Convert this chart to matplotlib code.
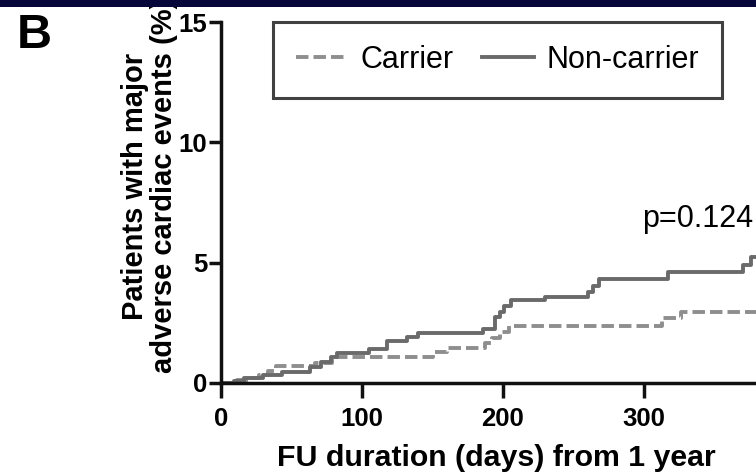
import matplotlib
matplotlib.use("Agg")
import matplotlib.pyplot as plt
from matplotlib.patches import Rectangle

plt.rcParams['font.family'] = ['Liberation Sans', 'DejaVu Sans']

# Cumulative incidence of major adverse cardiac events (%), step curves
noncarrier_days = [0, 9, 16, 30, 43, 63, 71, 78, 82, 105, 118, 132, 140, 186, 194,
                   198, 201, 206, 230, 260, 264, 268, 317, 370, 376, 390]
noncarrier_pct = [0, 0.10, 0.20, 0.33, 0.47, 0.68, 0.88, 1.09, 1.23, 1.40, 1.76, 1.90,
                  2.07, 2.23, 2.75, 2.96, 3.20, 3.45, 3.59, 3.79, 4.03, 4.32, 4.62,
                  4.90, 5.25, 5.25]

carrier_days = [0, 11, 19, 27, 33, 39, 67, 79, 150, 160, 187, 192, 198, 204, 313,
                326, 390]
carrier_pct = [0, 0.12, 0.22, 0.35, 0.50, 0.72, 0.85, 1.07, 1.30, 1.47, 1.65, 1.86,
               2.13, 2.37, 2.69, 2.96, 2.96]

x_ticks = [0, 100, 200, 300]
y_ticks = [0, 5, 10, 15]
p_text = "p=0.124"

W, H = 756, 473
fig = plt.figure(figsize=(W / 100, H / 100), dpi=100)
fig.patch.set_facecolor("white")

# dark banner along the top edge
fig.add_artist(Rectangle((0, 1 - 7 / H), 1, 7 / H, transform=fig.transFigure,
                         facecolor="#06063a", edgecolor="none", zorder=10))

# axes: day 0 at x=221 px, 141 px per 100 days; 0% at y=383 px, 15% at y=22 px
left, right = 221, 221 + 564
bottom, top = 383, 22
ax = fig.add_axes([left / W, 1 - bottom / H, (right - left) / W, (bottom - top) / H])
ax.set_xlim(0, 400)
ax.set_ylim(0, 15)

ax.step(carrier_days, carrier_pct, where="post", color="#8e8e8e", lw=2.8,
        linestyle=(0, (3.2, 1.3)), label="Carrier")
ax.step(noncarrier_days, noncarrier_pct, where="post", color="#6a6a6a", lw=2.8,
        label="Non-carrier")

for s in ("top", "right"):
    ax.spines[s].set_visible(False)
for s in ("left", "bottom"):
    ax.spines[s].set_linewidth(2.5)
    ax.spines[s].set_color("#111111")

ax.set_xticks(x_ticks)
ax.set_yticks(y_ticks)
ax.tick_params(axis="both", direction="out", width=2.5, color="#111111",
               labelsize=18.5)
ax.tick_params(axis="y", length=9, pad=1)
ax.tick_params(axis="x", length=11, pad=6)
for lab in ax.get_xticklabels() + ax.get_yticklabels():
    lab.set_fontweight("bold")

ax.set_xlabel("FU duration (days) from 1 year", fontsize=21.8, fontweight="bold",
              va="baseline")
ax.xaxis.set_label_coords(0.488, -0.230)
ax.set_ylabel("Patients with major\nadverse cardiac events (%)", fontsize=21,
              fontweight="bold", linespacing=1.02)
ax.yaxis.set_label_coords(-0.077, 0.545)

ax.text(299, 6.5, p_text, fontsize=22, va="baseline", ha="left")

fig.text(17 / W, 1 - 48 / H, "B", fontsize=35, fontweight="bold", ha="left",
         va="baseline")

leg = ax.legend(loc="upper left", bbox_to_anchor=(273 / W, 1 - 22 / H),
                bbox_transform=fig.transFigure, ncol=2, fontsize=22, frameon=True,
                fancybox=False, handlelength=1.7, handletextpad=0.4,
                columnspacing=0.95, borderpad=0.75, borderaxespad=0)
leg.get_frame().set_edgecolor("#111111")
leg.get_frame().set_linewidth(2.2)

fig.savefig("out.png", dpi=100)
